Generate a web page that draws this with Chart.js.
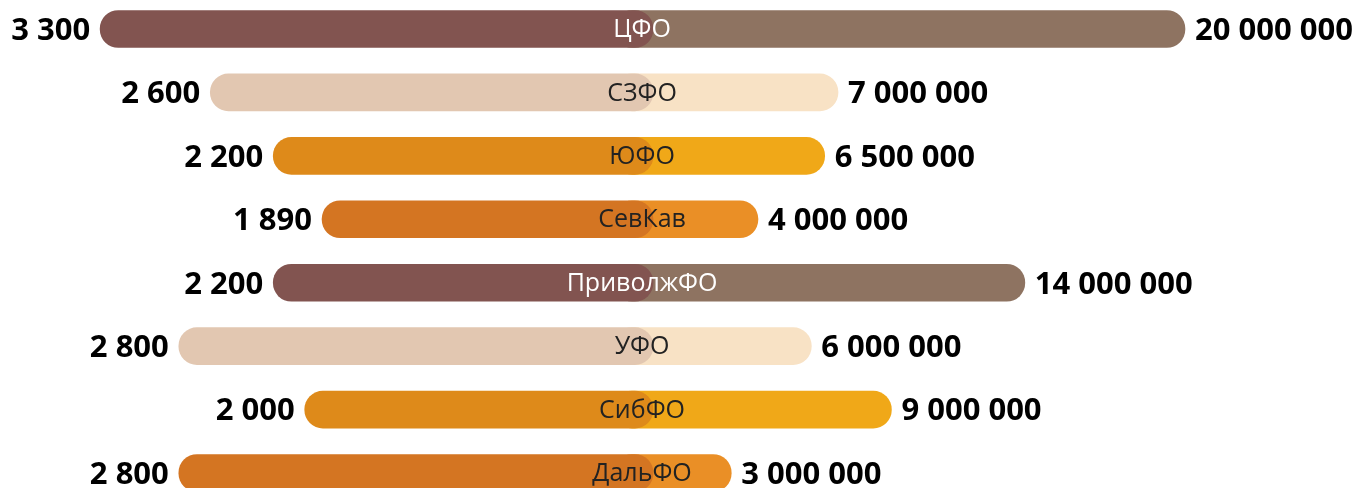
<!DOCTYPE html>
<html>
<head>
<meta charset="utf-8">
<script src="https://cdn.jsdelivr.net/npm/chart.js@4.4.0/dist/chart.umd.min.js"></script>
<style>
  html, body { margin: 0; padding: 0; background: #fff; }
  #wrap { width: 1359px; height: 488px; position: relative; }
</style>
</head>
<body>
<div id="wrap"><canvas id="chart"></canvas></div>
<script>
// округа
const regions = ["ЦФО", "СЗФО", "ЮФО", "СевКав", "ПриволжФО", "УФО", "СибФО", "ДальФО"];
// левые значения
const leftValues = [3300, 2600, 2200, 1890, 2200, 2800, 2000, 2800];
// правые значения
const rightValues = [20000000, 7000000, 6500000, 4000000, 14000000, 6000000, 9000000, 3000000];

const LEFT_BASE = -213;      // левая полоса чуть заходит вправо
const RIGHT_BASE = -1400000; // правая начинается под левой

const leftColors = ["#825450", "#E2C7B1", "#DE8A1A", "#D47522", "#825450", "#E2C7B1", "#DE8A1A", "#D47522"];
const rightColors = ["#8E7361", "#F8E2C5", "#F0A818", "#EA8F26", "#8E7361", "#F8E2C5", "#F0A818", "#EA8F26"];
const labelColors = ["#ffffff", "#222222", "#222222", "#222222", "#ffffff", "#222222", "#222222", "#222222"];

function fmt(n) {
  return String(n).replace(/\B(?=(\d{3})+(?!\d))/g, " ");
}

// подписи значений и названий
const labelPlugin = {
  id: "labels",
  afterDatasetsDraw(chart) {
    const ctx = chart.ctx;
    const leftMeta = chart.getDatasetMeta(0);
    const rightMeta = chart.getDatasetMeta(1);
    ctx.save();
    ctx.textBaseline = "middle";
    leftMeta.data.forEach((bar, i) => {
      const rbar = rightMeta.data[i];
      ctx.font = "bold 31px 'Open Sans'";
      ctx.fillStyle = "#000";
      ctx.textAlign = "right";
      ctx.fillText(fmt(leftValues[i]), bar.x - 10, bar.y + 2);
      ctx.textAlign = "left";
      ctx.fillText(fmt(rightValues[i]), rbar.x + 10, rbar.y + 2);

      ctx.font = "25px 'Open Sans'";
      ctx.fillStyle = labelColors[i];
      ctx.textAlign = "center";
      ctx.fillText(regions[i], bar.base - 11, bar.y + 1);
    });
    ctx.restore();
  }
};

const ctx = document.getElementById("chart").getContext("2d");
new Chart(ctx, {
  type: "bar",
  data: {
    labels: regions,
    datasets: [
      {
        label: "left",
        data: leftValues.map(v => [LEFT_BASE, v]),
        xAxisID: "xL",
        backgroundColor: leftColors,
        borderRadius: 19,
        borderSkipped: false,
        barThickness: 37,
        grouped: false,
        clip: false,
        order: 0,
      },
      {
        label: "right",
        data: rightValues.map(v => [RIGHT_BASE, v]),
        xAxisID: "xR",
        backgroundColor: rightColors,
        borderRadius: 19,
        borderSkipped: false,
        barThickness: 37,
        grouped: false,
        clip: false,
        order: 1,
      },
    ],
  },
  options: {
    indexAxis: "y",
    responsive: true,
    maintainAspectRatio: false,
    animation: false,
    layout: { padding: { top: 29, bottom: 15, left: 0, right: 0 } },
    plugins: {
      legend: { display: false },
      tooltip: { enabled: false },
    },
    scales: {
      y: { display: false, offset: false },
      xL: { display: false, reverse: true, min: -4698, max: 3936 },
      xR: { display: false, min: -24400000, max: 26520000 },
    },
  },
  plugins: [labelPlugin],
});
</script>
</body>
</html>
